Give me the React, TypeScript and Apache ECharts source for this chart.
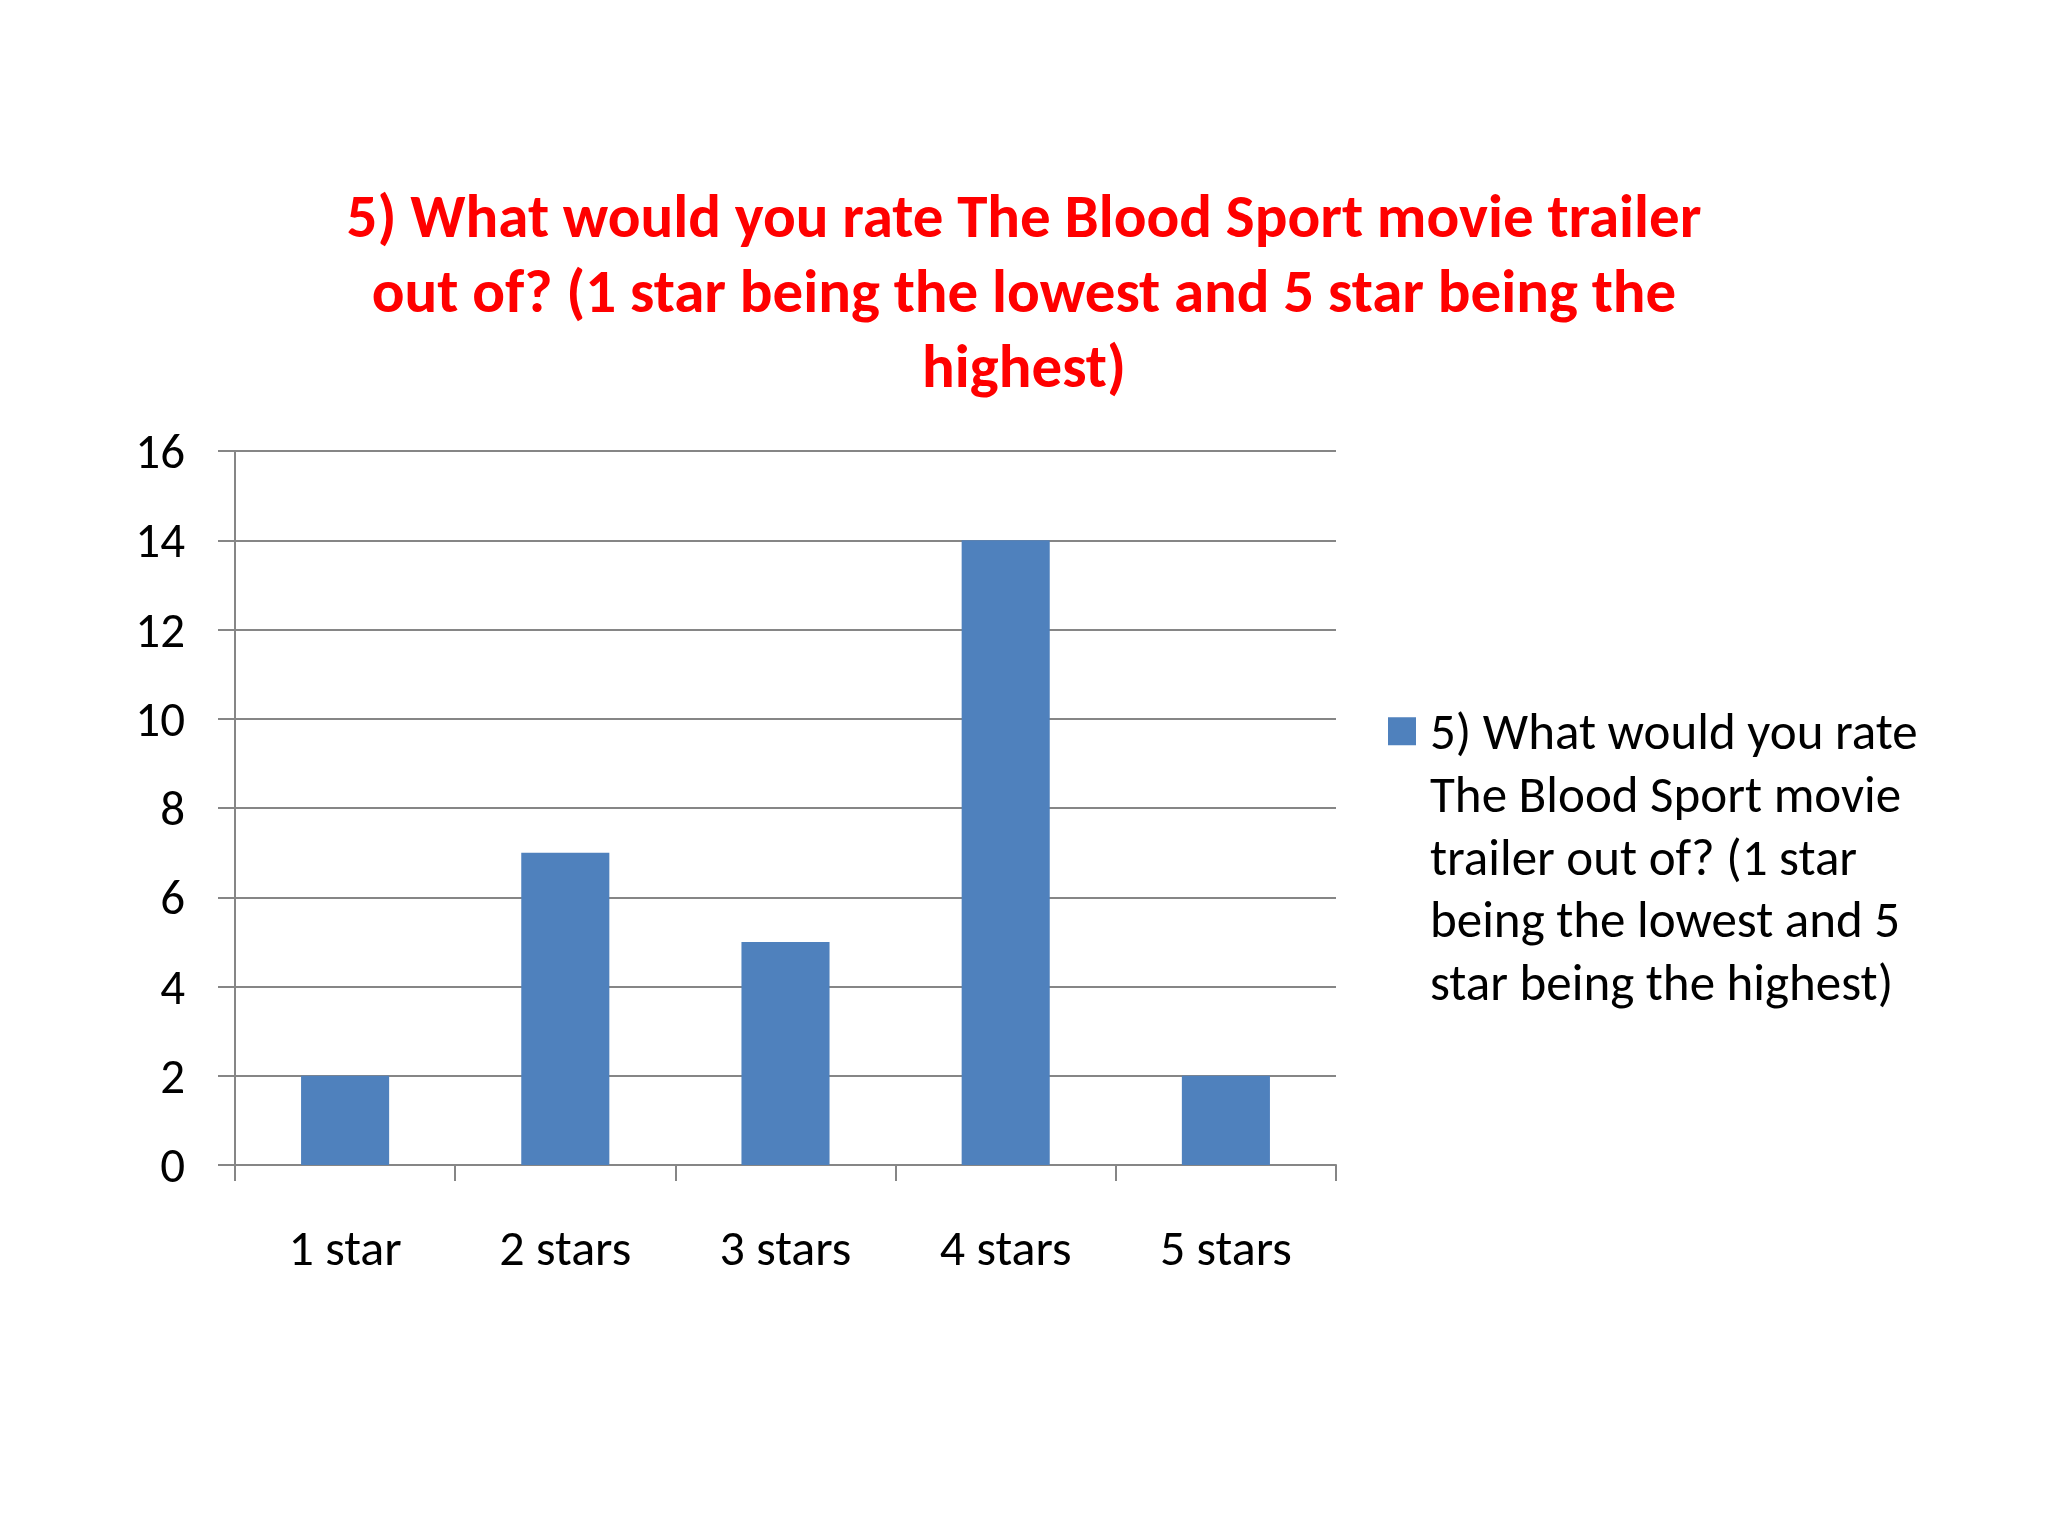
import React, { useEffect, useRef } from "react";
import * as echarts from "echarts";

const categories = ["1 star", "2 stars", "3 stars", "4 stars", "5 stars"];
const values = [2, 7, 5, 14, 2];
const seriesName =
  "5) What would you rate The Blood Sport movie trailer out of? (1 star being the lowest and 5 star being the highest)";
const titleLines = [
  "5) What would you rate The Blood Sport movie trailer",
  "out of? (1 star being the lowest and 5 star being the",
  "highest)",
];
const legendLines = [
  "5) What would you rate",
  "The Blood Sport movie",
  "trailer out of? (1 star",
  "being the lowest and 5",
  "star being the highest)",
];

const FONT = "Carlito, Calibri, Lato, sans-serif";

export default function App() {
  const ref = useRef<HTMLDivElement>(null);
  useEffect(() => {
    if (!ref.current) return;
    const chart = echarts.init(ref.current, null, { renderer: "svg" });
    const lh = 62.5;
    const legendFont = 51;
    chart.setOption({
      animation: false,
      backgroundColor: "#ffffff",
      title: {
        text: titleLines.join("\n"),
        left: "center",
        top: 173,
        textStyle: {
          color: "#ff0000",
          fontFamily: FONT,
          fontWeight: "bold",
          fontSize: 61,
          lineHeight: 75,
        },
      },
      grid: { left: 235, right: 712, top: 451, bottom: 371, containLabel: false },
      xAxis: {
        type: "category",
        data: categories,
        axisLine: { show: true, lineStyle: { color: "#868686", width: 2 } },
        axisTick: { show: true, length: 16, lineStyle: { color: "#868686", width: 2 } },
        axisLabel: { color: "#000", fontFamily: FONT, fontSize: 50, margin: 57 },
      },
      yAxis: {
        type: "value",
        min: 0,
        max: 16,
        interval: 2,
        axisLine: { show: true, lineStyle: { color: "#868686", width: 2 } },
        axisTick: { show: true, length: 17, lineStyle: { color: "#868686", width: 2 } },
        splitLine: { show: true, lineStyle: { color: "#868686", width: 2 } },
        axisLabel: { color: "#000", fontFamily: FONT, fontSize: 49, margin: 50 },
      },
      legend: {
        show: true,
        left: 1388,
        top: 700,
        padding: 0,
        orient: "vertical",
        icon: "rect",
        itemWidth: 28,
        itemHeight: 28,
        formatter: () => legendLines[0],
        textStyle: {
          color: "#000",
          fontFamily: FONT,
          fontSize: legendFont,
          lineHeight: lh,
          padding: [0, 0, 0, 9],
        },
        data: [seriesName],
      },
      graphic: [
        {
          type: "text",
          left: 1430,
          top: 732 + lh - lh / 2,
          style: {
            text: legendLines.slice(1).join("\n"),
            fill: "#000",
            font: `${legendFont}px ${FONT}`,
            lineHeight: lh,
          },
        },
      ],
      series: [
        {
          name: seriesName,
          type: "bar",
          data: values,
          barWidth: "40%",
          itemStyle: { color: "#4f81bd" },
        },
      ],
    });
    return () => chart.dispose();
  }, []);
  return (
    <div
      ref={ref}
      style={{ position: "absolute", left: 0, top: 0, width: 2048, height: 1536 }}
    />
  );
}
